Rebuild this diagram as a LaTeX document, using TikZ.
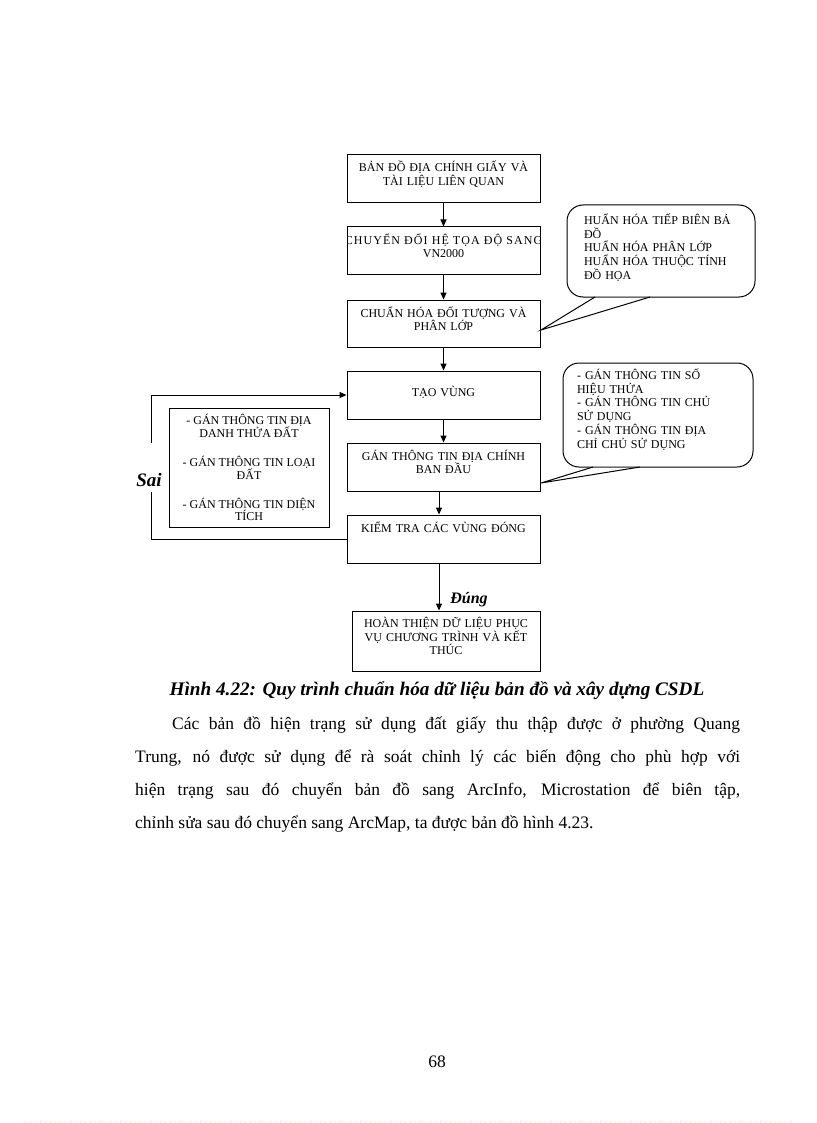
\documentclass[tikz,border=0pt]{standalone}
\usepackage{fontspec}
\setmainfont{Liberation Serif}
\usetikzlibrary{arrows.meta}
\begin{document}
\begin{tikzpicture}[x=1pt,y=-1pt,
  boxfont/.style={font=\fontsize{12}{13.7}\selectfont},
  stepbox/.style={draw, line width=1pt, boxfont, inner sep=0pt, align=center,
     minimum width=193pt, text width=193pt, text height=17pt, text depth=31pt},
  arr/.style={line width=1pt, -{Triangle[length=7pt,width=6pt]}},
  plain/.style={line width=1pt},
  callbox/.style={draw, line width=1pt, rounded corners=16pt, boxfont, align=left, inner ysep=0pt},
  lbl/.style={font=\fontsize{16}{18}\selectfont\bfseries\itshape, inner sep=0pt},
  body/.style={font=\fontsize{17.5}{33.3}\selectfont, inner sep=0pt}
]
\useasboundingbox (0,0) rectangle (816,1123);
\fill[white] (0,0) rectangle (816,1123);

% main flow boxes
\node[stepbox] (b1) at (443.5,179) {BẢN ĐỒ ĐỊA CHÍNH GIẤY VÀ\\TÀI LIỆU LIÊN QUAN};
\node[stepbox, text depth=30pt, path picture={
   \node[draw=none, boxfont, align=center, inner sep=0pt, text width=, text height=, text depth=,
         minimum width=0pt, anchor=base] (b2t) at ([yshift=-30.7pt]path picture bounding box.north)
     {{\addfontfeature{LetterSpace=9}CHUYỂN ĐỔI HỆ TỌA ĐỘ SANG}\\VN2000};}] (b2) at (443.5,250.5) {};
\node[stepbox, text depth=30pt] (b3) at (443.5,323.5) {CHUẨN HÓA ĐỐI TƯỢNG VÀ\\PHÂN LỚP};
\node[stepbox, text height=25pt, text depth=23pt] (b4) at (443.5,395) {TẠO VÙNG};
\node[stepbox] (b5) at (443.5,467) {GÁN THÔNG TIN ĐỊA CHÍNH\\BAN ĐẦU};
\node[stepbox] (b6) at (443.5,539) {KIỂM TRA CÁC VÙNG ĐÓNG};
\node[stepbox, minimum width=188pt, text width=188pt, text height=16.5pt, text depth=43.5pt] (b7) at (446,641)
   {HOÀN THIỆN DỮ LIỆU PHỤC\\VỤ CHƯƠNG TRÌNH VÀ KẾT\\THÚC};

% left info box
\node[draw, line width=1pt, boxfont, align=center, inner sep=0pt, minimum width=160pt, minimum height=119pt,
   font=\fontsize{12}{12.5}\selectfont] (lb) at (249,467.5)
   {- GÁN THÔNG TIN ĐỊA\\DANH THỬA ĐẤT\\[15.9pt]- GÁN THÔNG TIN LOẠI\\ĐẤT\\[15.9pt]- GÁN THÔNG TIN DIỆN\\TÍCH};

% arrows
\draw[arr] (b1) -- (b2);
\draw[arr] (b2) -- (b3);
\draw[arr] (b3) -- (b4);
\draw[arr] (b4) -- (b5);
\draw[arr] ([xshift=-4.5pt]b5.south) -- ([xshift=-4.5pt]b6.north);
\draw[arr] ([xshift=-4.5pt]b6.south) -- ([xshift=-4.5pt]b6.south |- b7.north);

% feedback loop
\node[lbl, font=\fontsize{19}{21}\selectfont\bfseries\itshape] (sai) at (149,480) {Sai};
\coordinate (gb) at (151,492);
\coordinate (gt) at (151,443);
\draw[plain] (b6.west) -| (gb);
\draw[arr] (gt) |- (b4.west);
\node[lbl] (dung) at (469,600) {Đúng};

% callout 1
\node[callbox, minimum width=188pt, inner xsep=17pt, text width=154pt, text height=19.5pt, text depth=72.5pt] (c1) at (661,251)
  {HUẨN HÓA TIẾP BIÊN BẢ\\ĐỒ\\HUẨN HÓA PHÂN LỚP\\HUẨN HÓA THUỘC TÍNH\\ĐỒ HỌA};
\coordinate (p1a) at (595,297);
\coordinate (p1b) at (650,297);
\coordinate (p1t) at (541,330);
\fill[white] ([yshift=-0.9pt]p1a) -- (p1t) -- ([yshift=-0.9pt]p1b) -- cycle;
\draw[plain] (p1a) -- (p1t) -- (p1b);

% callout 2
\node[callbox, minimum width=190pt, inner xsep=14pt, text width=162pt, text height=16.5pt, text depth=87.5pt] (c2) at (658,415)
  {- GÁN THÔNG TIN SỐ\\HIỆU THỬA\\- GÁN THÔNG TIN CHỦ\\SỬ DỤNG\\- GÁN THÔNG TIN ĐỊA\\CHỈ CHỦ SỬ DỤNG};
\coordinate (p2a) at (593,467);
\coordinate (p2b) at (640,467);
\coordinate (p2t) at (541,483);
\fill[white] ([yshift=-0.9pt]p2a) -- (p2t) -- ([yshift=-0.9pt]p2b) -- cycle;
\draw[plain] (p2a) -- (p2t) -- (p2b);

% caption and body text
\node[body, font=\fontsize{19.2}{22}\selectfont\bfseries\itshape, anchor=base] (cap) at (437,695)
  {Hình 4.22: Quy trình chuẩn hóa dữ liệu bản đồ và xây dựng CSDL};
\node[body, anchor=base west, text width=605pt, align=justify] (para) at (135,729)
  {\hspace*{37pt}Các bản đồ hiện trạng sử dụng đất giấy thu thập được ở phường Quang\linebreak
   Trung, nó được sử dụng để rà soát chỉnh lý các biến động cho phù hợp với\linebreak
   hiện trạng sau đó chuyển bản đồ sang ArcInfo, Microstation để biên tập,\linebreak
   chỉnh sửa sau đó chuyển sang ArcMap, ta được bản đồ hình 4.23.};
\node[body, anchor=base] (pg) at (437,1067) {68};

% faint dotted page edge
\draw[green!30, line width=1pt, dash pattern=on 1pt off 4pt] (25,1122) -- (791,1122);
\end{tikzpicture}
\end{document}
